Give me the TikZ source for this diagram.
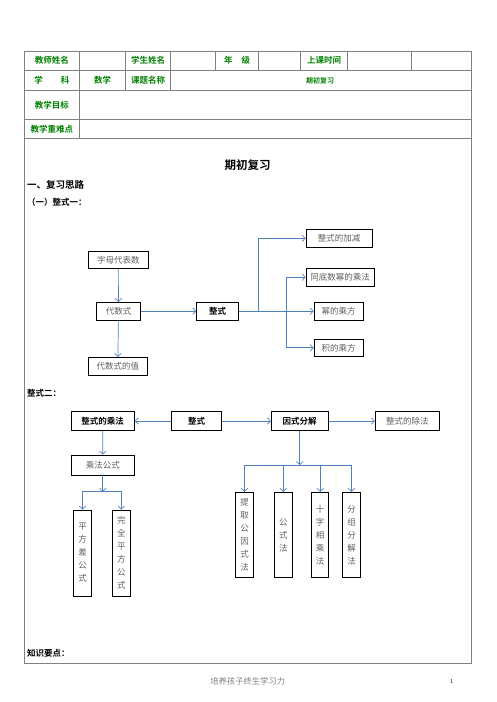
\documentclass[tikz,border=0pt]{standalone}
\usepackage{fontspec}
\newfontfamily\cjk[BoldFont={Noto Sans CJK SC Bold}]{Noto Sans CJK SC}
\usetikzlibrary{arrows.meta}
\definecolor{lineblue}{RGB}{79,129,189}
\definecolor{tabgreen}{RGB}{0,128,0}
\definecolor{textgray}{RGB}{95,95,95}

\begin{document}
\begin{tikzpicture}[x=1pt,y=-1pt,
    grid/.style={draw=gray, line width=0.8pt},
    cell/.style={font=\cjk\bfseries\fontsize{8.5}{10}\selectfont, text=tabgreen, inner sep=0pt},
    wh/.style 2 args={minimum width=#1pt, minimum height=#2pt},
    box/.style={draw, line width=0.9pt, inner sep=0pt, font=\cjk\fontsize{8.5}{10}\selectfont, text=textgray},
    keybox/.style={box, font=\cjk\bfseries\fontsize{8.5}{10}\selectfont, text=black},
    vbox/.style={box, align=center, font=\cjk\fontsize{8.5}{13}\selectfont},
    arr/.style={draw=lineblue, line width=0.7pt, -{Straight Barb[length=3pt,width=6.5pt]}},
    head/.style={font=\cjk\bfseries\fontsize{8.5}{10}\selectfont, anchor=west, inner sep=0pt}]
    \useasboundingbox (0,0) rectangle (496,702);

    % table
    \draw[grid] (24.5,51.7) rectangle (471,663.3);
    \foreach \y in {70.3,90.3,119.3,138.3}
        \draw[grid] (24.5,\y) -- (471,\y);
    \foreach \x in {79.3,125.7,170.3,215.7,258.7,300.7,347.7,411.7}
        \draw[grid] (\x,51.7) -- (\x,70.3);
    \foreach \x in {125.7,170.3}
        \draw[grid] (\x,70.3) -- (\x,90.3);
    \draw[grid] (79.3,51.7) -- (79.3,138.3);

    \node[cell] (teacher) at (51.9,60.7) {教师姓名};
    \node[cell] (student) at (148,60.7) {学生姓名};
    \node[cell] (grade) at (237.2,60.7) {年\hspace{9pt}级};
    \node[cell] (time) at (324.2,60.7) {上课时间};
    \node[cell] (subject) at (51.9,80.7) {学\hspace{18pt}科};
    \node[cell] (math) at (102.5,80.7) {数学};
    \node[cell] (topic) at (148,80.7) {课题名称};
    \node[cell, font=\cjk\bfseries\fontsize{7}{8}\selectfont] (topicname) at (320,80.7) {期初复习};
    \node[cell] (goal) at (51.9,104.8) {教学目标};
    \node[cell] (focus) at (51.9,128.8) {教学重难点};

    % headings
    \node[font=\cjk\bfseries\fontsize{11.5}{12}\selectfont, inner sep=0pt] (title) at (247.7,165) {期初复习};
    \node[head, font=\cjk\bfseries\fontsize{9.5}{10}\selectfont] (sec1) at (27,185) {一、复习思路};
    \node[head] (part1) at (27,202.7) {（一）整式一：};
    \node[head] (part2) at (27,393.3) {整式二：};
    \node[head] (points) at (27,653.3) {知识要点：};

    % diagram one
    \node[box, wh={66.3}{18}] (jiajian) at (339.2,238.3) {整式的加减};
    \node[box, wh={60}{16.6}] (zimu) at (118.3,260) {字母代表数};
    \node[box, wh={68.3}{17.7}] (tongdi) at (340.2,277.2) {同底数幂的乘法};
    \node[box, wh={43.6}{17.7}] (daishu) at (118.5,311.2) {代数式};
    \node[keybox, wh={41.6}{17.7}] (zhengshi) at (217.5,311.2) {整式};
    \node[box, wh={49.3}{17.7}] (mifang) at (338.7,311.2) {幂的乘方};
    \node[box, wh={49.3}{17.7}] (jifang) at (338.7,347.8) {积的乘方};
    \node[box, wh={59}{17.7}] (zhi) at (117.8,366.2) {代数式的值};
    \coordinate (fork) at (286.7,311.2);

    \draw[arr] (zimu) -- (daishu);
    \draw[arr] (daishu) -- (zhi);
    \draw[arr] (daishu) -- (zhengshi);
    \draw[arr] (zhengshi) -- (mifang);
    \draw[arr] (zhengshi.east) -- ++(19.8,0) |- (jiajian.west);
    \draw[arr] (fork) |- (tongdi.west);
    \draw[arr] (fork) |- (jifang.west);

    % diagram two
    \node[keybox, wh={63.3}{18.6}] (chengfa) at (102.7,421) {整式的乘法};
    \node[keybox, wh={49.6}{18.6}] (zhengshi2) at (196.5,421) {整式};
    \node[keybox, wh={56.7}{18.6}] (yinshi) at (299.7,421) {因式分解};
    \node[box, wh={64}{18.6}] (chufa) at (407.3,421) {整式的除法};
    \node[box, wh={63}{20}] (gongshi) at (102.8,465) {乘法公式};
    \node[vbox, wh={18.4}{86}] (pingfangcha) at (82.5,553) {平\\方\\差\\公\\式};
    \node[vbox, wh={18}{86}] (wanquan) at (121.3,553) {完\\全\\平\\方\\公\\式};
    \node[vbox, wh={17.6}{85.4}] (tiqu) at (244.5,535) {提\\取\\公\\因\\式\\法};
    \node[vbox, wh={18}{85.4}] (gongshifa) at (283.3,535) {公\\式\\法};
    \node[vbox, wh={17}{85.4}] (shizi) at (320.2,535) {十\\字\\相\\乘\\法};
    \node[vbox, wh={18.4}{85.4}] (fenzu) at (351.5,535) {分\\组\\分\\解\\法};
    \coordinate (split1) at (102.8,491.7);
    \coordinate (split2) at (299.7,465);

    \draw[arr] (zhengshi2) -- (chengfa);
    \draw[arr] (zhengshi2) -- (yinshi);
    \draw[arr] (yinshi) -- (chufa);
    \draw[arr] (chengfa) -- (gongshi);
    \draw[arr] (gongshi) -- (split1);
    \draw[arr] (split1) -| (pingfangcha.north);
    \draw[arr] (split1) -| (wanquan.north);
    \draw[arr] (yinshi) -- (split2);
    \draw[arr] (split2) -| (tiqu.north);
    \draw[arr] (split2) -| (gongshifa.north);
    \draw[arr] (split2) -| (shizi.north);
    \draw[arr] (split2) -| (fenzu.north);

    % footer
    \node[font=\cjk\fontsize{8.3}{9}\selectfont, text=gray] (footer) at (247.7,681.7) {培养孩子终生学习力};
    \node[font=\fontsize{6}{7}\selectfont] (page) at (451.7,681.7) {1};
\end{tikzpicture}
\end{document}
